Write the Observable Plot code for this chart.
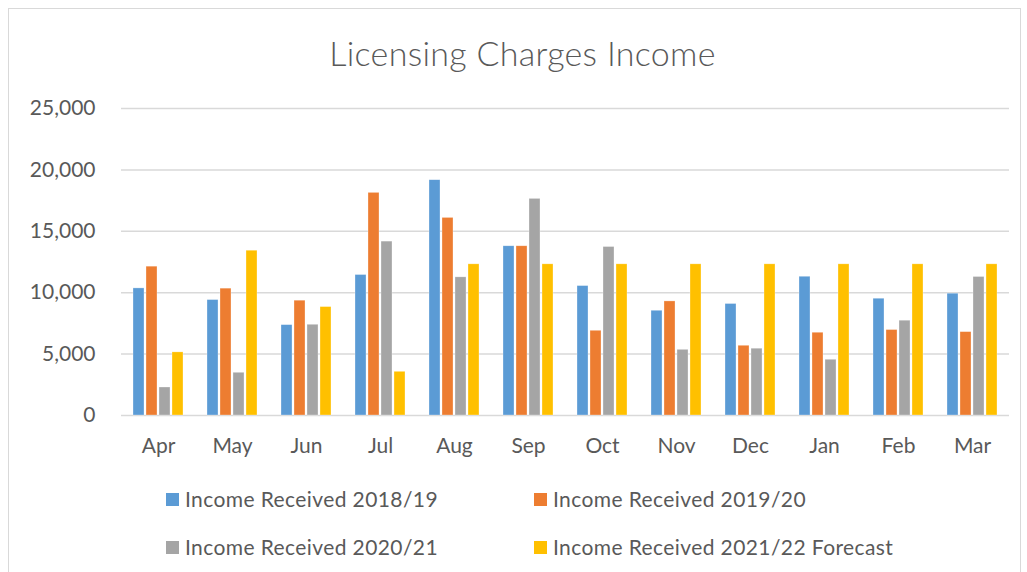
<!DOCTYPE html>
<html>
<head>
<meta charset="utf-8">
<script src="https://cdn.jsdelivr.net/npm/d3@7"></script>
<script src="https://cdn.jsdelivr.net/npm/@observablehq/plot@0.6"></script>
<style>
  html, body { margin: 0; padding: 0; background: #fff; }
  body { width: 1027px; height: 572px; position: relative; overflow: hidden; font-family: Lato, "Open Sans", sans-serif; color: #595959; }
  #frame { position: absolute; left: 8px; top: 8px; width: 1013px; height: 620px; border: 1px solid #d9d9d9; box-sizing: border-box; }
  #title { position: absolute; left: 0; width: 1045px; top: 32px; text-align: center; font-size: 34px; font-weight: 300; letter-spacing: 0.3px; line-height: 42px; color: #595959; }
  #chart { position: absolute; left: 0; top: 80px; }
  .leg { position: absolute; font-size: 21px; letter-spacing: 0.4px; line-height: 26px; color: #595959; white-space: nowrap; }
  .leg span.sw { position: absolute; left: -19px; top: 7px; width: 13px; height: 13px; }
</style>
</head>
<body>
<div id="frame"></div>
<div id="title">Licensing Charges Income</div>
<div id="chart"></div>
<div id="legend"></div>
<script>
const months = ["Apr","May","Jun","Jul","Aug","Sep","Oct","Nov","Dec","Jan","Feb","Mar"];
const seriesNames = ["Income Received 2018/19","Income Received 2019/20","Income Received 2020/21","Income Received 2021/22 Forecast"];
const colors = ["#5B9BD5","#ED7D31","#A5A5A5","#FFC000"];
const income2018 = [10350, 9400, 7360, 11440, 19160, 13780, 10540, 8530, 9080, 11300, 9510, 9920];
const income2019 = [12120, 10330, 9350, 18130, 16090, 13780, 6900, 9290, 5680, 6740, 6960, 6790];
const income2020 = [2280, 3480, 7390, 14160, 11250, 17640, 13720, 5350, 5440, 4540, 7720, 11280];
const income2021 = [5140, 13420, 8830, 3560, 12310, 12310, 12310, 12310, 12310, 12310, 12310, 12310];
const yTicks = [0, 5000, 10000, 15000, 20000, 25000];

const allSeries = [income2018, income2019, income2020, income2021];
const data = [];
months.forEach((m, i) => {
  allSeries.forEach((s, j) => data.push({month: m, series: seriesNames[j], value: s[i]}));
});

const fmt = d3.format(",");
const chart = Plot.plot({
  width: 1027,
  height: 400,
  marginLeft: 118,
  marginRight: 16,
  marginTop: 28,
  marginBottom: 65,
  style: {fontFamily: "Lato, 'Open Sans', sans-serif", fontSize: "21px", color: "#595959", background: "transparent"},
  fx: {domain: months, padding: 0, label: null, axis: "bottom", tickSize: 0, tickPadding: 23},
  x: {domain: seriesNames, paddingInner: 0.17, paddingOuter: 0.75, axis: null},
  y: {domain: [0, 25000], axis: null},
  color: {domain: seriesNames, range: colors},
  marks: [
    Plot.ruleY(yTicks, {stroke: "#d9d9d9", strokeWidth: 1.5}),
    Plot.barY(data, {fx: "month", x: "series", y: "value", fill: "series", stroke: "#fff", strokeOpacity: 0.5, strokeWidth: 0.6}),
    Plot.axisY(yTicks, {facetAnchor: "left", label: null, tickSize: 0, tickPadding: 26, tickFormat: fmt, fill: "#595959", fontSize: 21})
  ]
});
document.getElementById("chart").appendChild(chart);

const legendPos = [[185, 486], [553, 486], [185, 534], [553, 534]];
const leg = document.getElementById("legend");
seriesNames.forEach((n, i) => {
  const d = document.createElement("div");
  d.className = "leg";
  d.style.left = legendPos[i][0] + "px";
  d.style.top = legendPos[i][1] + "px";
  d.innerHTML = `<span class="sw" style="background:${colors[i]}"></span>${n}`;
  leg.appendChild(d);
});
</script>
</body>
</html>
